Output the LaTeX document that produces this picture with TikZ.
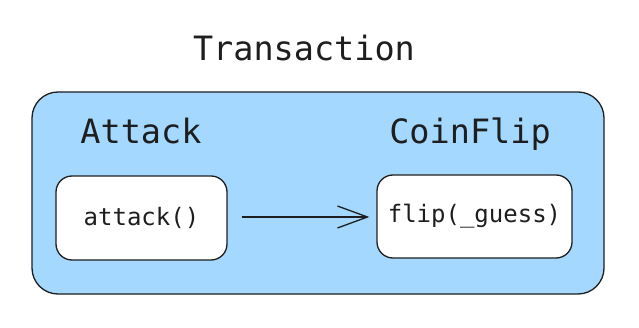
\documentclass[tikz,border=0pt]{standalone}
\usepackage{fontspec}
\setmonofont{DejaVu Sans Mono}
\usetikzlibrary{arrows.meta}
\definecolor{ink}{HTML}{1E1E1E}
\definecolor{skyfill}{HTML}{A5D8FF}
\tikzset{
  box/.style={draw=ink, line width=1.3pt, rounded corners=#1, inner sep=0pt},
  bigtext/.style={text=ink, font=\ttfamily\fontsize{33.5}{40}\selectfont, inner sep=0pt},
  smalltext/.style={text=ink, font=\ttfamily\fontsize{24}{28}\selectfont, inner sep=0pt},
  link/.style={draw=ink, line width=1.3pt, -{Straight Barb[length=30pt,width=22pt,line width=1.3pt]}}
}
\begin{document}
\begin{tikzpicture}[x=1pt,y=-1pt]
\useasboundingbox[fill=white] (0,0) rectangle (639,328);
\node[box=26pt, fill=skyfill, minimum width=572pt, minimum height=202pt] (tx) at (318,193) {};
\node[bigtext] (title) at (304,48) {Transaction};
\node[bigtext] (attacklabel) at (141,131) {Attack};
\node[bigtext] (coinlabel) at (470,134) {CoinFlip};
\node[box=16pt, fill=white, minimum width=171pt, minimum height=84pt] (attack) at (141.5,218) {};
\node[smalltext] at (attack.center) {attack()};
\node[box=16pt, fill=white, minimum width=195pt, minimum height=83pt] (coin) at (474.5,216.5) {};
\node[smalltext] at (coin.center) {flip(\_guess)};
\draw[link, shorten <=14pt, shorten >=7pt] (attack.east |- 0,217) coordinate (a0) -- (coin.west |- 0,217);
\end{tikzpicture}
\end{document}
